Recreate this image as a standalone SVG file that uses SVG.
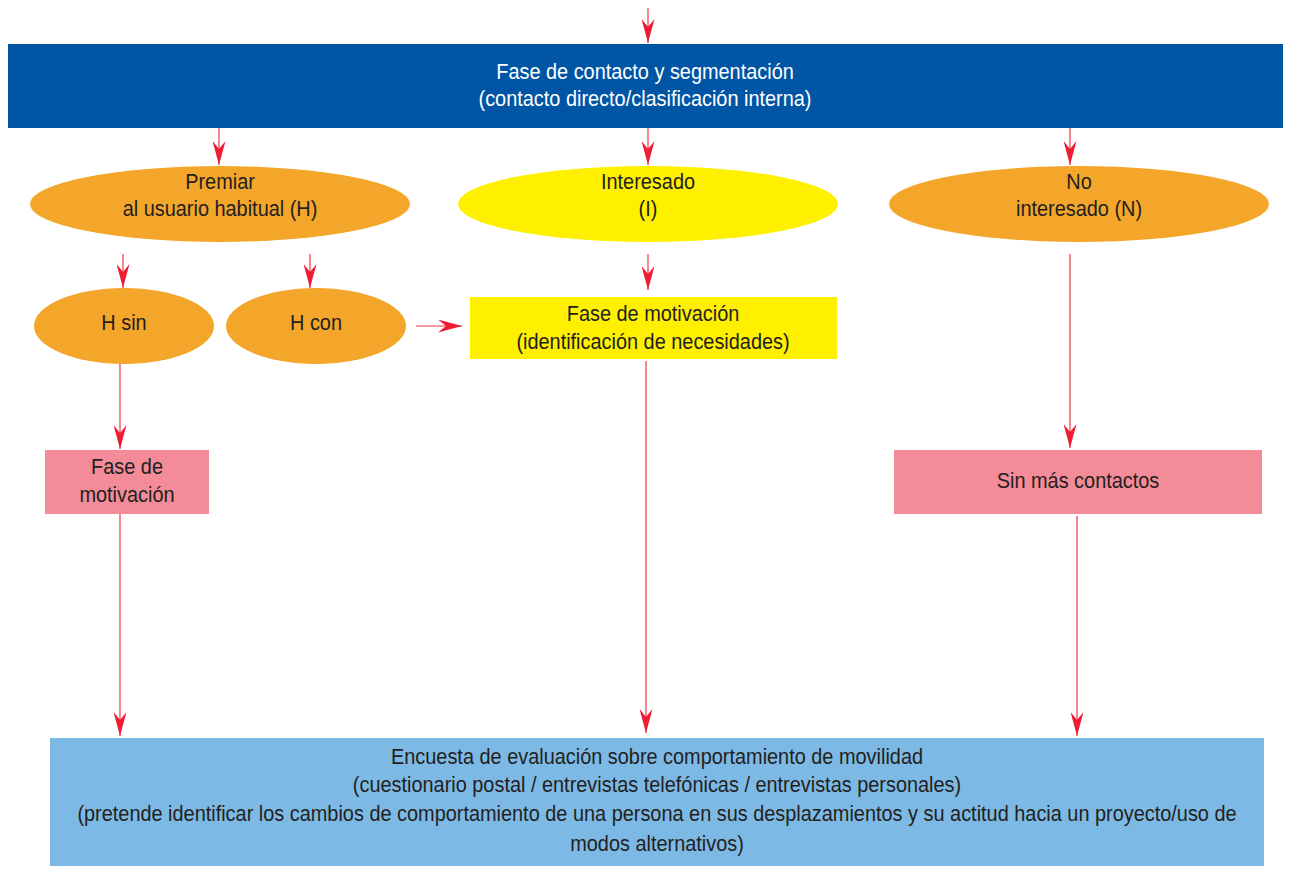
<svg xmlns="http://www.w3.org/2000/svg" width="1297" height="873" viewBox="0 0 1297 873">
  <defs>
    <marker id="arrow" viewBox="0 0 24 13" refX="24" refY="6.5" markerWidth="24" markerHeight="13" markerUnits="userSpaceOnUse" orient="auto">
      <path d="M0,0 L24,6.5 L0,13 L8,6.5 Z" fill="#ED1C34"/>
    </marker>
    <style>
      .t { font-family: "Liberation Sans", Arial, sans-serif; font-size: 22px; fill: #231F20; text-anchor: middle; }
      .w { fill: #FFFFFF; }
      .c { fill: none; stroke: #EE3448; stroke-width: 1.2; marker-end: url(#arrow); }
      .orange { fill: #F4A62A; }
      .yellow { fill: #FFF000; }
      .pink { fill: #F38C98; }
    </style>
  </defs>
  <rect width="1297" height="873" fill="#FFFFFF"/>

  <g id="connectors">
    <path class="c" d="M648,8 V43"/>
    <path class="c" d="M219,128 V165"/>
    <path class="c" d="M648,128 V165"/>
    <path class="c" d="M1070,128 V165"/>
    <path class="c" d="M123,254 V288"/>
    <path class="c" d="M310,254 V288"/>
    <path class="c" d="M648,254 V290"/>
    <path class="c" d="M416,326 H462"/>
    <path class="c" d="M120,364 V449"/>
    <path class="c" d="M1070,254 V448"/>
    <path class="c" d="M120,514 V736"/>
    <path class="c" d="M646,361 V733"/>
    <path class="c" d="M1077,516 V736"/>
  </g>

  <g id="contacto">
    <rect x="8" y="44" width="1275" height="84" fill="#0055A5"/>
    <g transform="translate(645,0) scale(0.905,1)">
      <text class="t w" x="0" y="79">Fase de contacto y segmentación</text>
      <text class="t w" x="0" y="106">(contacto directo/clasificación interna)</text>
    </g>
  </g>

  <g id="premiar">
    <ellipse class="orange" cx="220" cy="204" rx="190" ry="38"/>
    <g transform="translate(220,0) scale(0.905,1)">
      <text class="t" x="0" y="189">Premiar</text>
      <text class="t" x="0" y="216">al usuario habitual (H)</text>
    </g>
  </g>

  <g id="interesado">
    <ellipse class="yellow" cx="648" cy="204" rx="190" ry="38"/>
    <g transform="translate(648,0) scale(0.905,1)">
      <text class="t" x="0" y="189">Interesado</text>
      <text class="t" x="0" y="216">(I)</text>
    </g>
  </g>

  <g id="no-interesado">
    <ellipse class="orange" cx="1079" cy="204" rx="190" ry="38"/>
    <g transform="translate(1079,0) scale(0.905,1)">
      <text class="t" x="0" y="189">No</text>
      <text class="t" x="0" y="216">interesado (N)</text>
    </g>
  </g>

  <g id="h-sin">
    <ellipse class="orange" cx="124" cy="326" rx="90" ry="38"/>
    <g transform="translate(124,0) scale(0.905,1)">
      <text class="t" x="0" y="330">H sin</text>
    </g>
  </g>

  <g id="h-con">
    <ellipse class="orange" cx="316" cy="326" rx="90" ry="38"/>
    <g transform="translate(316,0) scale(0.905,1)">
      <text class="t" x="0" y="330">H con</text>
    </g>
  </g>

  <g id="motivacion-necesidades">
    <rect class="yellow" x="470" y="297" width="367" height="62"/>
    <g transform="translate(653,0) scale(0.905,1)">
      <text class="t" x="0" y="321">Fase de motivación</text>
      <text class="t" x="0" y="349">(identificación de necesidades)</text>
    </g>
  </g>

  <g id="motivacion">
    <rect class="pink" x="45" y="450" width="164" height="64"/>
    <g transform="translate(127,0) scale(0.905,1)">
      <text class="t" x="0" y="474">Fase de</text>
      <text class="t" x="0" y="502">motivación</text>
    </g>
  </g>

  <g id="sin-contactos">
    <rect class="pink" x="894" y="450" width="368" height="64"/>
    <g transform="translate(1078,0) scale(0.905,1)">
      <text class="t" x="0" y="488">Sin más contactos</text>
    </g>
  </g>

  <g id="encuesta">
    <rect x="50" y="738" width="1214" height="128" fill="#7DB9E5"/>
    <g transform="translate(657,0) scale(0.905,1)">
      <text class="t" x="0" y="764">Encuesta de evaluación sobre comportamiento de movilidad</text>
      <text class="t" x="0" y="792">(cuestionario postal / entrevistas telefónicas / entrevistas personales)</text>
      <text class="t" x="0" y="821">(pretende identificar los cambios de comportamiento de una persona en sus desplazamientos y su actitud hacia un proyecto/uso de</text>
      <text class="t" x="0" y="851">modos alternativos)</text>
    </g>
  </g>
</svg>
